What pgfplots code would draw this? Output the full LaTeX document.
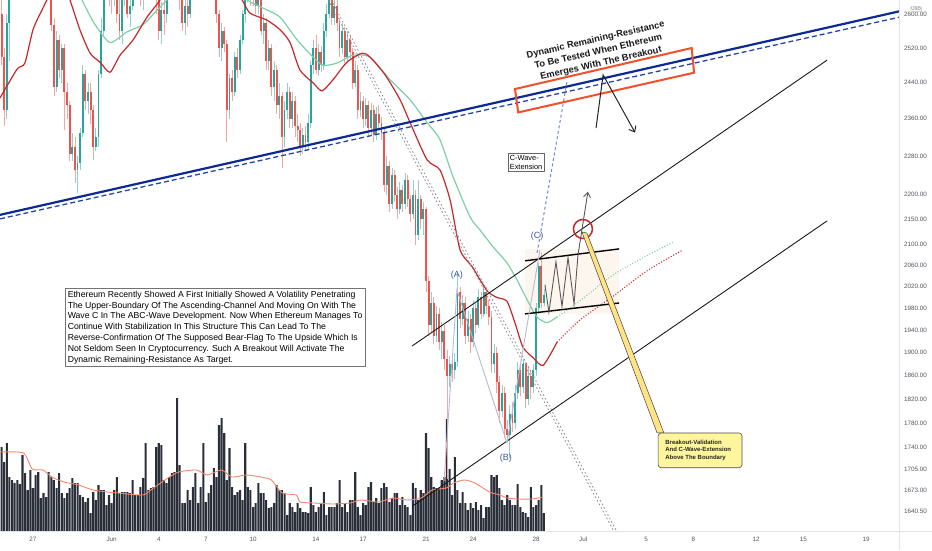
\documentclass[border=0pt]{standalone}
\usepackage{fontspec}
\setmainfont{Liberation Sans}
\usepackage{pgfplots}
\usepackage{pgfplotstable}
\pgfplotsset{compat=1.18}
\usetikzlibrary{arrows.meta}

\definecolor{upc}{HTML}{26A69A}
\definecolor{dnc}{HTML}{EF5350}
\definecolor{upw}{HTML}{8ED2CA}
\definecolor{dnw}{HTML}{F6A5A3}
\definecolor{maRed}{HTML}{C62828}
\definecolor{maGreen}{HTML}{7DCFA8}
\definecolor{navy}{HTML}{0C2A92}
\definecolor{navyd}{HTML}{2444AA}
\definecolor{volc}{HTML}{2A2E39}
\definecolor{volma}{HTML}{F5866B}
\definecolor{tickc}{HTML}{50535E}
\definecolor{framec}{HTML}{E0E3EB}
\definecolor{abcc}{HTML}{B4BAD4}
\definecolor{extc}{HTML}{7287CF}
\definecolor{lblc}{HTML}{3A56A8}
\definecolor{boxred}{HTML}{F2502A}
\definecolor{circc}{HTML}{C62828}
\definecolor{beige}{HTML}{FDF6EE}
\definecolor{yel}{HTML}{FFF59D}
\definecolor{dotsc}{HTML}{868993}

\pgfplotstableread{
i o h l c v
0 2600 2640 2480 2500 84
1 2500 2520 2345 2380 69
2 2380 2600 2360 2580 88
3 2580 2700 2490 2660 54
4 2660 2740 2640 2700 51
5 2700 2790 2680 2760 48
6 2760 2820 2740 2800 51
7 2800 2870 2780 2850 47
8 2850 2910 2830 2880 76
9 2880 2900 2820 2840 58
10 2840 2860 2790 2810 41
11 2810 2870 2800 2850 61
12 2850 2870 2780 2800 43
13 2800 2820 2740 2760 56
14 2760 2810 2750 2790 59
15 2790 2800 2730 2750 33
16 2750 2770 2710 2730 38
17 2730 2760 2700 2720 34
18 2720 2740 2680 2700 59
19 2700 2720 2560 2575 54
20 2575 2590 2410 2430 51
21 2430 2560 2420 2540 43
22 2540 2550 2450 2470 58
23 2470 2530 2440 2520 38
24 2520 2530 2336 2420 33
25 2420 2440 2360 2390 38
26 2390 2400 2270 2285 43
27 2285 2330 2270 2300 53
28 2300 2320 2224 2250 48
29 2250 2280 2203 2265 48
30 2265 2340 2250 2330 36
31 2330 2480 2320 2460 34
32 2460 2470 2380 2400 29
33 2400 2440 2370 2420 33
34 2420 2440 2349 2380 18
35 2380 2390 2272 2300 39
36 2300 2340 2290 2320 31
37 2320 2470 2300 2460 46
38 2460 2590 2450 2560 41
39 2560 2700 2550 2680 41
40 2680 2790 2650 2740 26
41 2740 2780 2620 2700 36
42 2700 2720 2600 2650 28
43 2650 2730 2620 2700 41
44 2700 2710 2580 2600 54
45 2600 2640 2540 2560 38
46 2560 2660 2530 2640 39
47 2640 2720 2620 2680 39
48 2680 2700 2590 2600 39
49 2600 2660 2570 2620 38
50 2620 2720 2610 2700 51
51 2700 2800 2690 2760 36
52 2760 2790 2680 2720 36
53 2720 2740 2620 2640 44
54 2640 2700 2610 2660 53
55 2660 2760 2650 2720 88
56 2720 2840 2700 2800 41
57 2800 2830 2720 2760 43
58 2760 2780 2680 2700 44
59 2700 2720 2600 2650 84
60 2650 2680 2540 2560 88
61 2560 2630 2530 2610 86
62 2610 2650 2550 2600 51
63 2600 2700 2580 2680 48
64 2680 2770 2660 2740 54
65 2740 2820 2720 2780 58
66 2780 2800 2700 2720 59
67 2720 2750 2650 2700 133
68 2700 2720 2610 2640 66
69 2640 2660 2560 2580 28
70 2580 2640 2550 2620 28
71 2620 2650 2570 2600 41
72 2600 2700 2590 2680 31
73 2680 2760 2660 2720 44
74 2720 2800 2700 2780 58
75 2780 2810 2720 2740 28
76 2740 2790 2720 2760 44
77 2760 2780 2700 2720 88
78 2720 2740 2680 2700 29
79 2700 2760 2690 2740 38
80 2740 2760 2690 2710 46
81 2710 2730 2670 2700 63
82 2700 2720 2580 2600 54
83 2600 2610 2500 2520 106
84 2520 2580 2490 2560 113
85 2560 2570 2510 2530 98
86 2530 2540 2310 2380 51
87 2380 2460 2360 2450 83
88 2450 2470 2400 2420 44
89 2420 2510 2410 2500 36
90 2500 2520 2450 2470 39
91 2470 2550 2460 2540 41
92 2540 2610 2530 2600 31
93 2600 2660 2580 2650 88
94 2650 2720 2630 2700 44
95 2700 2710 2620 2640 41
96 2640 2700 2620 2680 24
97 2680 2690 2600 2620 28
98 2620 2670 2600 2650 48
99 2650 2670 2550 2560 38
100 2560 2600 2530 2580 38
101 2580 2590 2470 2490 31
102 2490 2540 2470 2520 23
103 2520 2530 2410 2430 24
104 2430 2490 2400 2470 28
105 2470 2480 2370 2390 46
106 2390 2440 2360 2410 41
107 2410 2420 2255 2320 41
108 2320 2400 2300 2380 38
109 2380 2440 2360 2420 16
110 2420 2430 2340 2360 28
111 2360 2420 2340 2400 24
112 2400 2410 2320 2345 19
113 2345 2370 2310 2335 28
114 2335 2350 2280 2300 23
115 2300 2340 2285 2325 19
116 2325 2345 2290 2310 19
117 2310 2370 2295 2350 18
118 2350 2490 2340 2480 44
119 2480 2540 2460 2520 26
120 2520 2550 2460 2470 19
121 2470 2530 2455 2510 24
122 2510 2525 2465 2480 28
123 2480 2580 2470 2560 39
124 2560 2625 2545 2600 16
125 2600 2680 2590 2640 24
126 2640 2660 2575 2590 24
127 2590 2650 2575 2620 24
128 2620 2640 2560 2580 28
129 2580 2590 2500 2520 51
130 2520 2580 2505 2560 24
131 2560 2570 2485 2500 28
132 2500 2560 2490 2540 19
133 2540 2550 2495 2510 31
134 2510 2520 2425 2440 31
135 2440 2490 2430 2470 59
136 2470 2480 2360 2380 24
137 2380 2420 2365 2400 16
138 2400 2410 2340 2360 28
139 2360 2405 2345 2390 26
140 2390 2400 2320 2340 44
141 2340 2395 2325 2380 49
142 2380 2390 2310 2325 29
143 2325 2385 2315 2370 33
144 2370 2390 2335 2350 28
145 2350 2365 2315 2330 43
146 2330 2340 2205 2220 48
147 2220 2280 2200 2260 44
148 2260 2270 2165 2180 29
149 2180 2255 2170 2240 33
150 2240 2250 2185 2200 38
151 2200 2215 2150 2170 38
152 2170 2225 2160 2210 26
153 2210 2220 2165 2180 34
154 2180 2245 2170 2230 26
155 2230 2240 2175 2190 24
156 2190 2200 2145 2160 16
157 2160 2230 2150 2200 48
158 2200 2210 2100 2120 43
159 2120 2230 2110 2190 31
160 2190 2200 2130 2150 41
161 2150 2185 2120 2170 38
162 2170 2175 2010 2030 98
163 2030 2040 1930 1950 83
164 1950 2010 1935 1990 54
165 1990 2000 1915 1930 44
166 1930 1985 1920 1970 43
167 1970 1980 1905 1920 43
168 1920 1955 1890 1940 51
169 1940 1950 1870 1890 54
170 1890 1905 1690 1860 112
171 1860 1895 1840 1880 62
172 1880 1900 1850 1870 36
173 1870 1900 1855 1885 74
174 1885 2045 1875 2010 41
175 2010 2020 1945 1960 28
176 1960 2005 1950 1990 39
177 1990 2000 1915 1930 28
178 1930 1975 1920 1960 21
179 1960 1970 1900 1920 28
180 1920 1995 1910 1980 23
181 1980 1990 1935 1950 29
182 1950 2015 1945 2000 21
183 2000 2010 1960 1970 26
184 1970 2025 1965 2010 13
185 2010 2020 1970 1985 24
186 1985 1995 1950 1965 24
187 1965 1975 1865 1880 56
188 1880 1915 1865 1900 54
189 1900 1910 1830 1850 56
190 1850 1860 1780 1800 43
191 1800 1845 1790 1830 31
192 1830 1840 1755 1770 26
193 1770 1785 1750 1760 36
194 1760 1810 1724 1795 31
195 1795 1815 1765 1780 26
196 1780 1845 1770 1830 26
197 1830 1885 1820 1870 47
198 1870 1880 1825 1840 24
199 1840 1890 1830 1880 19
200 1880 1885 1805 1820 18
201 1820 1875 1810 1860 14
202 1860 1870 1820 1840 44
203 1840 1880 1830 1870 24
204 1870 1990 1860 1980 26
205 1980 2065 1970 2060 31
206 2060 2085 1980 1990 46
207 1990 2015 1985 2005 18
}\ohlc

\begin{document}
\begin{tikzpicture}[x=1pt,y=1pt]
\useasboundingbox (0,0) rectangle (932,550);

% ---------- volume pane ----------
\begin{axis}[at={(0pt,19pt)}, anchor=south west, scale only axis,
  width=899pt, height=531pt, xmin=-0.595, xmax=342.53, ymin=0, ymax=531,
  hide axis]
\addplot[ybar, bar width=2.05pt, fill=volc, draw=none] table[x=i,y=v]{\ohlc};
\addplot[volma, line width=0.9pt, smooth, tension=0.4] coordinates {
(-0.6,79) (8.3,78) (11.7,62) (15.8,61) (19.2,54) (23.9,49) (29.4,46) (34.9,41)
(40.3,39) (44.4,38) (53.9,36) (58.0,43) (63.5,53) (67.6,59) (74.4,61) (78.5,56)
(83.9,61) (88.0,54) (93.5,56) (98.9,54) (103.0,51) (107.1,38) (112.5,36) (113.9,29)
(119.4,28) (126.2,27) (133.0,28) (137.1,31) (143.9,29) (149.4,33) (154.8,31) (160.2,33)
(164.3,41) (169.8,43) (172.5,48) (176.6,51) (180.7,48) (186.2,39) (190.2,36) (193.0,33)
(197.1,32) (202.5,32) (206.6,34)};
\end{axis}

% ---------- price pane ----------
\begin{axis}[at={(0pt,19pt)}, anchor=south west, scale only axis,
  width=899pt, height=531pt, ymode=log,
  xmin=-0.595, xmax=342.53, ymin=1611, ymax=2635,
  axis line style={draw=none}, major tick length=0pt, yminorticks=false,
  yticklabel pos=right,
  ytick={2600,2520,2440,2360,2280,2200,2150,2100,2060,2020,1980,1940,1900,1860,1820,1780,1740,1705,1673,1640.5},
  yticklabels={2600.00,2520.00,2440.00,2360.00,2280.00,2200.00,2150.00,2100.00,2060.00,2020.00,1980.00,1940.00,1900.00,1860.00,1820.00,1780.00,1740.00,1705.00,1673.00,1640.50},
  xtick={12,42,60,78,96,120,138,162,180,204,222,246,264,288,306,330},
  xticklabels={27,Jun,4,7,10,14,17,21,24,28,Jul,5,8,12,15,19},
  tick label style={font=\fontsize{6.3}{7}\selectfont, text=tickc},
  yticklabel style={xshift=1.5pt},
  xticklabel style={yshift=-2.5pt},
]
% bear-flag area
\fill[beige] (axis cs:199.8,1970) rectangle (axis cs:235.7,2092);

% candles
\pgfplotsinvokeforeach{0,...,207}{%
  \pgfplotstablegetelem{#1}{o}\of\ohlc\edef\cO{\pgfplotsretval}%
  \pgfplotstablegetelem{#1}{h}\of\ohlc\edef\cH{\pgfplotsretval}%
  \pgfplotstablegetelem{#1}{l}\of\ohlc\edef\cL{\pgfplotsretval}%
  \pgfplotstablegetelem{#1}{c}\of\ohlc\edef\cC{\pgfplotsretval}%
  \ifdim\cC pt<\cO pt\relax
    \addplot[dnw, line width=0.8pt, forget plot] coordinates {(#1,\cL) (#1,\cH)};
    \addplot[dnc, line width=1.9pt, forget plot] coordinates {(#1,\cO) (#1,\cC)};
  \else
    \addplot[upw, line width=0.8pt, forget plot] coordinates {(#1,\cL) (#1,\cH)};
    \addplot[upc, line width=1.9pt, forget plot] coordinates {(#1,\cO) (#1,\cC)};
  \fi
}

% moving averages
\addplot[maGreen, line width=1.2pt, smooth, tension=0.4] coordinates {
(28.0,2685) (30.7,2635) (35.7,2575) (41.4,2533) (47.9,2558) (54.0,2575) (58.6,2605)
(63.1,2635) (69,2680) (75.7,2712) (87.2,2672) (93.7,2635) (99.8,2615) (106.3,2593)
(112.8,2539) (118.9,2499) (122.7,2480) (128.0,2485) (134.1,2503) (140.6,2499)
(148.3,2447) (155.9,2402) (162.4,2352) (167.3,2315) (172.3,2237) (178.8,2155)
(182.6,2129) (187.6,2096) (192.9,2065) (196.7,2033) (200.6,1996) (204.4,1964)
(208.2,1954) (212.0,1964)};
\addplot[maGreen, line width=1.1pt, dash pattern=on 1pt off 1.8pt, smooth] coordinates {
(212.0,1964) (220.8,1994) (233.4,2042) (246.4,2079) (256.3,2105)};
\addplot[maRed, line width=1.2pt, smooth, tension=0.4] coordinates {
(-0.6,2406) (5.9,2471) (8.9,2485) (12.0,2563) (15.4,2610) (18.5,2650) (22.3,2700)
(26.1,2635) (29.9,2563) (33.8,2508) (37.6,2487) (41.4,2464) (45.2,2503) (50.2,2539)
(55.5,2593) (60.5,2635) (66.2,2700) (75.7,2740) (85.3,2700) (91.8,2635) (94.8,2603)
(101.3,2586) (106.3,2563) (110.1,2533) (113.9,2469) (118.9,2440) (122.3,2422)
(126.5,2447) (131.8,2487) (137.6,2508) (140.6,2499) (146.4,2458) (152.1,2402)
(155.9,2352) (162.4,2272) (167.3,2251) (171.2,2189) (175.0,2090) (179.6,2058)
(182.6,2033) (185.7,2010) (189.1,2000) (192.9,1993) (196.0,1953) (199.0,1910)
(202.8,1892) (206.7,1878) (212.0,1919)};
\addplot[maRed!80!red, line width=1.1pt, dash pattern=on 1pt off 1.8pt, smooth] coordinates {
(212.0,1919) (220.8,1959) (233.4,2002) (246.4,2050) (260.1,2090)};

% falling dotted double line
\addplot[dotsc, line width=0.8pt, dash pattern=on 1.6pt off 2.4pt] coordinates {(122.5,2661) (235.4,1598)};
\addplot[dotsc, line width=0.8pt, dash pattern=on 1.6pt off 2.4pt] coordinates {(123.6,2661) (236.5,1598)};

% red box fill (behind the blue lines)
\fill[white, fill opacity=0.7] (axis cs:195.96,2426) -- (axis cs:263.4,2520) -- (axis cs:264.3,2463) -- (axis cs:197.2,2374) -- cycle;

% dynamic resistance lines
\addplot[navy, line width=2.2pt] coordinates {(-0.595,2159) (342.53,2607)};
\addplot[navyd, line width=1.3pt, dash pattern=on 5pt off 3pt] coordinates {(-0.595,2151) (342.53,2593)};

% ascending channel
\addplot[black!90, line width=0.9pt] coordinates {(156.7,1912) (315.1,2492)};
\addplot[black!90, line width=0.9pt] coordinates {(156.7,1648) (315.1,2147)};

% bear flag boundaries
\addplot[black, line width=1.4pt] coordinates {(199.8,2069) (235.7,2092)};
\addplot[black, line width=1.4pt] coordinates {(199.8,1970) (235.7,1990)};

% ABC wave path
\addplot[abcc, line width=0.9pt] coordinates {(168.9,1687) (173.8,2014) (192.9,1748) (205.5,2090)};
\addplot[extc, line width=1pt, dash pattern=on 3pt off 2.5pt] coordinates {(204.4,2084) (215.8,2442)};

% zigzag projection
\draw[black!65, line width=0.9pt, -{Straight Barb[length=5pt,width=7pt]}]
  (axis cs:207.4,2024) -- (axis cs:208.9,1973) -- (axis cs:211.6,2067) -- (axis cs:213.9,1984)
  -- (axis cs:216.2,2075) -- (axis cs:218.5,1988) -- (axis cs:220.0,2080) -- (axis cs:223.8,2206);

% red circle
\draw[circc, line width=1.5pt] (axis cs:221.9,2131) circle[radius=9.5pt];

% red box border
\draw[boxred, line width=2pt] (axis cs:195.96,2426) -- (axis cs:263.4,2520) -- (axis cs:264.3,2463) -- (axis cs:197.2,2374) -- cycle;

% arrows under the box
\draw[black!85, line width=1pt, -{Straight Barb[length=5pt,width=8pt]}]
  (axis cs:226.9,2340) -- (axis cs:229.6,2458) -- (axis cs:241.8,2330);

% rotated title
\node[rotate=12.8, align=center, text=black!90, font=\bfseries\fontsize{9.3}{11.5}\selectfont, inner sep=0pt]
  at (axis cs:227.8,2511) {Dynamic Remaining-Resistance\\[0.6pt]To Be Tested When Ethereum\\[0.6pt]Emerges With The Breakout};

% yellow callout
\filldraw[fill=yel!85!orange, draw=black!75, line width=0.5pt]
  (axis cs:221.5,2125) -- (axis cs:223.4,2123) -- (axis cs:252.8,1764) -- (axis cs:250.2,1764) -- cycle;
\draw[fill=yel, draw=black!70, line width=0.6pt, rounded corners=3pt]
  (axis cs:250.6,1764) rectangle (axis cs:282.6,1708);
\node[anchor=west, align=left, text=black!85, font=\bfseries\fontsize{6}{7.3}\selectfont]
  at (axis cs:252.0,1736) {Breakout-Validation\\And C-Wave-Extension\\Above The Boundary};

% C-wave box
\node[draw=black!60, fill=white, line width=0.6pt, align=left, inner sep=1.8pt, font=\fontsize{7.4}{8.8}\selectfont]
  at (axis cs:200.2,2267) {C-Wave-\\Extension};

% wave labels
\node[text=lblc, font=\fontsize{9}{10}\selectfont] at (axis cs:173.8,2042) {(A)};
\node[text=lblc, font=\fontsize{9}{10}\selectfont] at (axis cs:192.5,1723) {(B)};
\node[text=lblc, font=\fontsize{9}{10}\selectfont] at (axis cs:204.4,2116) {(C)};

% description box
\node[anchor=west, draw=black!55, fill=white, line width=0.6pt, align=left, inner sep=2.5pt,
  font=\fontsize{8.7}{10.8}\selectfont]
  at (axis cs:24.2,1945) {Ethereum Recently Showed A First Initially Showed A Volatility Penetrating\\
The Upper-Boundary Of The Ascending-Channel And Moving On With The\\
Wave C In The ABC-Wave Development. Now When Ethereum Manages To\\
Continue With Stabilization In This Structure This Can Lead To The\\
Reverse-Confirmation Of The Supposed Bear-Flag To The Upside Which Is\\
Not Seldom Seen In Cryptocurrency. Such A Breakout Will Activate The\\
Dynamic Remaining-Resistance As Target.};
\end{axis}

% pane separators
\draw[framec, line width=1pt] (899,0) -- (899,550);
\draw[framec, line width=1pt] (0,19) -- (932,19);
% currency badge
\node[draw=gray!50, fill=white, rounded corners=1pt, inner sep=0.8pt, text=gray!80!black,
  font=\fontsize{4.5}{5}\selectfont] at (916,541) {USD};
\end{tikzpicture}
\end{document}
